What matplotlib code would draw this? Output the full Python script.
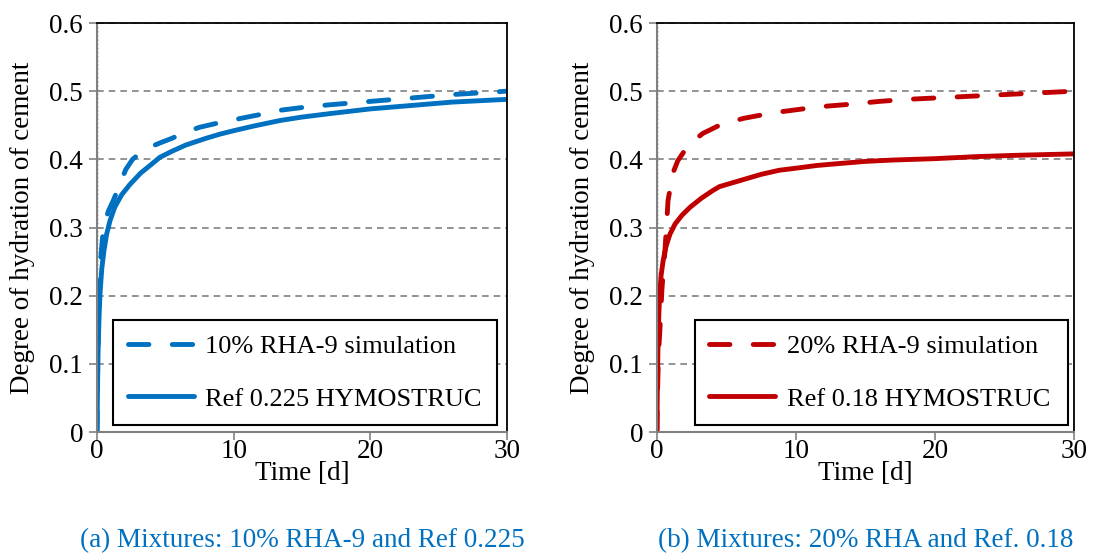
import matplotlib.pyplot as plt

plt.rcParams['font.family'] = ['Liberation Serif', 'DejaVu Serif']

# (a) 10% RHA-9 / Ref 0.225
t_sim_a = [0, 0.03, 0.08, 0.15, 0.25, 0.4, 0.6, 0.85, 1.2, 1.6, 2.1, 2.6, 3.2, 4, 4.6, 5.5,
           6.5, 7.5, 9, 10.5, 12, 13.4, 15, 17, 20, 23, 26, 30]
sim_a = [0, 0.07, 0.14, 0.2, 0.25, 0.285, 0.31, 0.325, 0.34, 0.36, 0.385, 0.40, 0.41, 0.419,
         0.424, 0.431, 0.44, 0.447, 0.454, 0.46, 0.466, 0.472, 0.476, 0.48, 0.485, 0.49, 0.495, 0.50]
t_ref_a = [0, 0.03, 0.08, 0.15, 0.22, 0.35, 0.5, 0.7, 0.95, 1.3, 1.8, 2.4, 3.2, 4, 4.6, 5.5,
           6.5, 8, 9, 10, 11.5, 13.4, 15, 17, 20, 23, 26, 30]
ref_a = [0, 0.06, 0.12, 0.17, 0.204, 0.24, 0.265, 0.29, 0.31, 0.33, 0.348, 0.363, 0.38, 0.393,
         0.403, 0.412, 0.421, 0.431, 0.437, 0.442, 0.449, 0.457, 0.462, 0.467, 0.474, 0.479, 0.484, 0.488]

# (b) 20% RHA-9 / Ref 0.18
t_sim_b = [0, 0.03, 0.08, 0.14, 0.2, 0.36, 0.58, 0.8, 1.15, 1.5, 1.9, 2.5, 3.3, 4.5, 6.2, 7.5,
           9, 10.5, 12.2, 14, 16, 18, 20, 23, 26, 30]
sim_b = [0, 0.05, 0.09, 0.125, 0.145, 0.21, 0.267, 0.34, 0.38, 0.398, 0.41, 0.425, 0.438, 0.45,
         0.46, 0.465, 0.47, 0.474, 0.478, 0.481, 0.485, 0.488, 0.49, 0.493, 0.496, 0.50]
t_ref_b = [0, 0.03, 0.08, 0.14, 0.2, 0.3, 0.45, 0.65, 0.93, 1.3, 1.8, 2.4, 3.2, 4, 4.5, 5.5,
           6.5, 7.5, 8.8, 10, 11.5, 13.2, 15, 17, 20, 23, 26, 30]
ref_b = [0, 0.07, 0.13, 0.175, 0.204, 0.23, 0.252, 0.272, 0.29, 0.305, 0.318, 0.33, 0.343, 0.354,
         0.36, 0.366, 0.372, 0.378, 0.384, 0.387, 0.391, 0.394, 0.397, 0.399, 0.401, 0.404, 0.406, 0.408]

panels = [
    dict(ts=t_sim_a, s=sim_a, tr=t_ref_a, r=ref_a, color='#0070C0',
         labels=['10% RHA-9 simulation', 'Ref 0.225 HYMOSTRUC'],
         caption='(a) Mixtures: 10% RHA-9 and Ref 0.225',
         rect=[0.0887, 0.2188, 0.3747, 0.7396], leg=(0.039, 0.017, 0.937, 0.283)),
    dict(ts=t_sim_b, s=sim_b, tr=t_ref_b, r=ref_b, color='#C00000',
         labels=['20% RHA-9 simulation', 'Ref 0.18 HYMOSTRUC'],
         caption='(b) Mixtures: 20% RHA and Ref. 0.18',
         rect=[0.6005, 0.2188, 0.3812, 0.7396], leg=(0.091, 0.017, 0.894, 0.283)),
]

fig = plt.figure(figsize=(10.94, 5.53), dpi=100)

for p in panels:
    ax = fig.add_axes(p['rect'])
    ax.plot(p['ts'], p['s'], color=p['color'], lw=3.5, ls=(0, (4.2, 4.8)),
            label=p['labels'][0], dash_capstyle='round', solid_joinstyle='round')
    ax.plot(p['tr'], p['r'], color=p['color'], lw=3.5, label=p['labels'][1],
            solid_capstyle='round', solid_joinstyle='round')
    ax.set_xlim(0, 30)
    ax.set_ylim(0, 0.6)
    ax.set_xticks([0, 10, 20, 30])
    ax.set_yticks([0, 0.1, 0.2, 0.3, 0.4, 0.5, 0.6])
    ax.set_yticklabels(['0', '0.1', '0.2', '0.3', '0.4', '0.5', '0.6'])
    ax.yaxis.grid(True, color='#808080', ls=(0, (4, 3)), lw=1.2)
    ax.set_axisbelow(True)
    ax.tick_params(labelsize=19.5, direction='out', length=6, color='#808080', width=1.2, pad=4)
    ax.tick_params(axis='x', pad=-1)
    for s in ['left', 'bottom']:
        ax.spines[s].set_color('#808080')
        ax.spines[s].set_linewidth(1.5)
    for s in ['top', 'right']:
        ax.spines[s].set_color('black')
        ax.spines[s].set_linewidth(1.3)
    ax.axvline(0, color='black', ls=(0, (1, 2)), lw=1, zorder=1)
    ax.set_xlabel('Time [d]', fontsize=19.5, labelpad=-2)
    ax.set_ylabel('Degree of hydration of cement', fontsize=19.5, labelpad=10)
    leg = ax.legend(loc='lower left', bbox_to_anchor=p['leg'], mode='expand',
                    fontsize=19, fancybox=False, edgecolor='black',
                    framealpha=1, handlelength=2.5, handletextpad=0.45,
                    labelspacing=1.1, borderpad=0.55, borderaxespad=0)
    leg.get_frame().set_linewidth(1.5)
    x_mid = p['rect'][0] + p['rect'][2] / 2
    fig.text(x_mid, 0.022, p['caption'], ha='center', va='center',
             fontsize=19.5, color='#0070C0')

fig.savefig('out.png', dpi=100)
